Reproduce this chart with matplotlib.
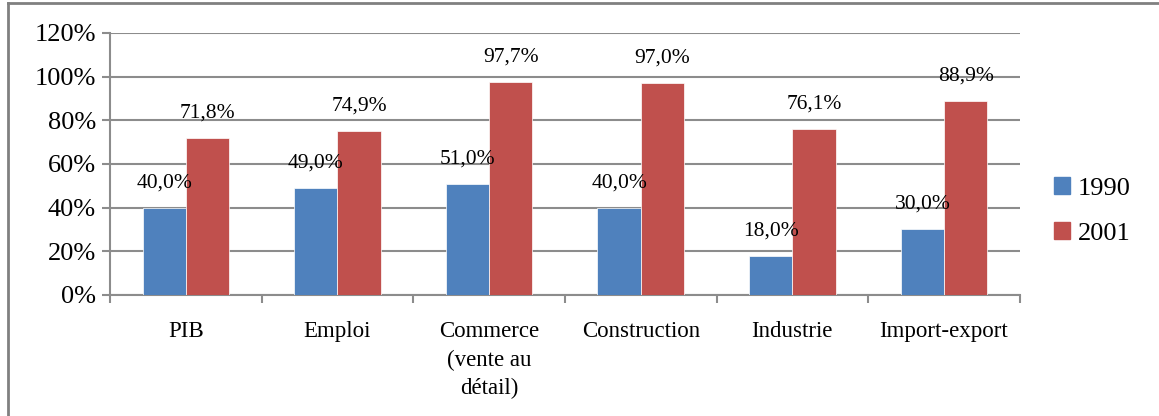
import numpy as np
import matplotlib
matplotlib.use("Agg")
import matplotlib.pyplot as plt
from matplotlib.lines import Line2D
from matplotlib.patches import Patch

# Data
categories = ["PIB", "Emploi", "Commerce\n(vente au\ndétail)", "Construction",
              "Industrie", "Import-export"]
values_1990 = [40.0, 49.0, 51.0, 40.0, 18.0, 30.0]
values_2001 = [71.8, 74.9, 97.7, 97.0, 76.1, 88.9]
series_names = ["1990", "2001"]
yticks = [0, 20, 40, 60, 80, 100, 120]

blue = "#4F81BD"
red = "#C0504D"
grid_gray = "#8C8C8C"

plt.rcParams["font.family"] = ["Liberation Serif", "DejaVu Serif"]

fig = plt.figure(figsize=(11.59, 4.16), dpi=100)
ax = fig.add_axes([0.0949, 0.2909, 0.785, 0.6298])

x = np.arange(len(categories))
w = 0.285
b1 = ax.bar(x - w / 2, values_1990, width=w, color=blue, edgecolor="white", linewidth=0.5, zorder=3)
b2 = ax.bar(x + w / 2, values_2001, width=w, color=red, edgecolor="white", linewidth=0.5, zorder=3)

# data labels above the bars, french decimal comma
for bars, vals in ((b1, values_1990), (b2, values_2001)):
    for rect, v in zip(bars, vals):
        ax.annotate(f"{v:.1f}%".replace(".", ","),
                    (rect.get_x() + rect.get_width() / 2, rect.get_height()),
                    xytext=(0, 18), textcoords="offset points",
                    ha="center", va="center", fontsize=15.5, zorder=5)

ax.set_xlim(-0.5, len(categories) - 0.5)
ax.set_ylim(0, 120)
ax.set_yticks(yticks)
ax.set_yticklabels([f"{t}%" for t in yticks], fontsize=19)
ax.yaxis.grid(True, color=grid_gray, linewidth=1.5, zorder=0)

ax.set_xticks(x)
ax.set_xticklabels(categories, fontsize=16.5, linespacing=1.45)
ax.tick_params(axis="x", which="major", length=0, pad=19)
ax.set_xticks(np.arange(-0.5, len(categories) + 0.5, 1), minor=True)
ax.tick_params(axis="x", which="minor", length=6, width=1.5, color=grid_gray)
ax.tick_params(axis="y", length=6, width=1.5, color=grid_gray, pad=4)

for side in ("top", "right"):
    ax.spines[side].set_visible(False)
for side in ("left", "bottom"):
    ax.spines[side].set_color(grid_gray)
    ax.spines[side].set_linewidth(1.5)

handles = [Patch(color=blue), Patch(color=red)]
ax.legend(handles, series_names, loc="center left", bbox_to_anchor=(1.017, 0.32),
          frameon=False, fontsize=19, handlelength=0.6, handleheight=0.6,
          handletextpad=0.3, labelspacing=0.85, borderpad=0.2)

# outer frame of the embedded chart (top and left edges visible)
fig.add_artist(Line2D([8 / 1159, 1.0], [1 - 3 / 416, 1 - 3 / 416],
                      transform=fig.transFigure, color="#808080", linewidth=2))
fig.add_artist(Line2D([8 / 1159, 8 / 1159], [0, 1 - 3 / 416],
                      transform=fig.transFigure, color="#808080", linewidth=2))

fig.savefig("out.png", dpi=100)
